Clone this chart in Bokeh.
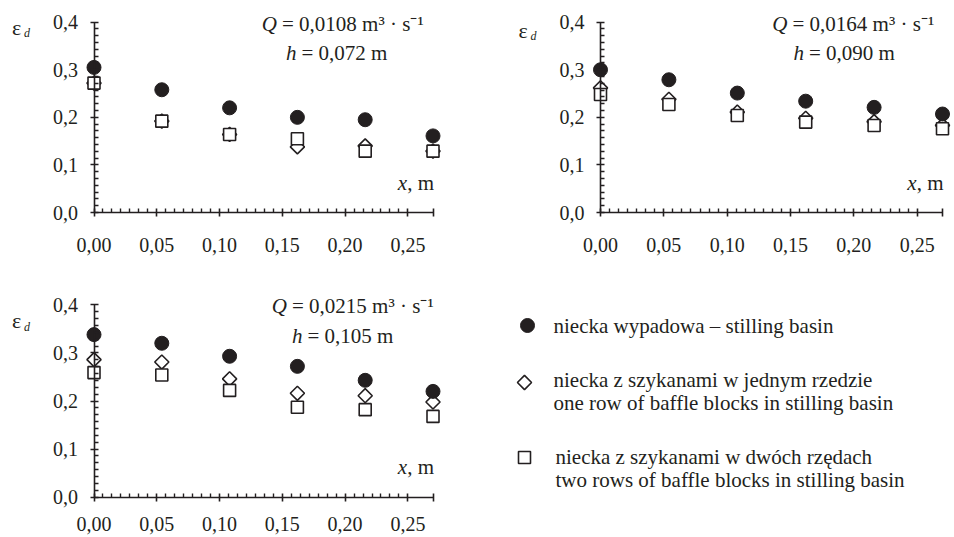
import numpy as np
from bokeh.plotting import figure
from bokeh.models import Range1d, FixedTicker, Label
from bokeh.layouts import column, row
from bokeh.embed import file_html
from bokeh.resources import INLINE

# ---------------- data ----------------
x_pos = [0.0, 0.054, 0.108, 0.162, 0.216, 0.270]

p1_basin = [0.305, 0.258, 0.220, 0.200, 0.195, 0.161]
p1_one_row = [0.272, 0.192, 0.164, 0.138, 0.140, 0.129]
p1_two_rows = [0.272, 0.192, 0.164, 0.155, 0.129, 0.129]

p2_basin = [0.300, 0.279, 0.251, 0.234, 0.221, 0.207]
p2_one_row = [0.262, 0.238, 0.211, 0.198, 0.191, 0.183]
p2_two_rows = [0.248, 0.227, 0.204, 0.190, 0.183, 0.176]

p3_basin = [0.338, 0.320, 0.293, 0.272, 0.243, 0.220]
p3_one_row = [0.286, 0.281, 0.246, 0.216, 0.211, 0.198]
p3_two_rows = [0.259, 0.254, 0.222, 0.187, 0.182, 0.168]

q_texts = ["0,0108", "0,0164", "0,0215"]
h_texts = ["0,072", "0,090", "0,105"]

x_ticks = [0.0, 0.05, 0.10, 0.15, 0.20, 0.25]
x_tick_labels = ["0,00", "0,05", "0,10", "0,15", "0,20", "0,25"]
x_end = 0.27
y_ticks = [0.0, 0.1, 0.2, 0.3, 0.4]
y_tick_labels = ["0,0", "0,1", "0,2", "0,3", "0,4"]

legend_labels = [
    ["niecka wypadowa – stilling basin"],
    ["niecka z szykanami w jednym rzedzie", "one row of baffle blocks in stilling basin"],
    ["niecka z szykanami w dwóch rzędach", "two rows of baffle blocks in stilling basin"],
]

# ---------------- style ----------------
INK = "#231f20"
FONT = "Liberation Serif"


def minor_between(ticks, n=7):
    out = []
    for a, b in zip(ticks[:-1], ticks[1:]):
        out.extend(np.linspace(a, b, n + 1)[1:-1].tolist())
    return out


def make_panel(width, height, ox, oy, x_px_end, y_px_top, basin, one_row, two_rows,
               q_txt, h_txt, q_end, h_start, eps_dy, x_standoff):
    # ox, oy: pixel position of the origin (0, 0) inside the figure (top-left based)
    # x_px_end: pixel x of x = x_end ; y_px_top: pixel y of y = 0.4
    sx = (x_px_end - ox) / x_end
    sy = (oy - y_px_top) / 0.4
    xr = Range1d(-ox / sx, (width - ox) / sx)
    yr = Range1d(-(height - oy) / sy, oy / sy)
    p = figure(width=width, height=height, output_backend="svg", toolbar_location=None,
               x_range=xr, y_range=yr, min_border=0)
    p.outline_line_color = None
    p.grid.visible = False
    p.background_fill_color = "white"
    p.border_fill_color = "white"

    xa = p.xaxis[0]
    ya = p.yaxis[0]
    ya.fixed_location = 0
    xa.fixed_location = 0
    xa.bounds = (0, x_end)
    ya.bounds = (0, 0.4)
    xa.ticker = FixedTicker(ticks=x_ticks + [x_end], minor_ticks=minor_between(x_ticks))
    ya.ticker = FixedTicker(ticks=y_ticks, minor_ticks=minor_between(y_ticks))
    xo = {t: l for t, l in zip(x_ticks, x_tick_labels)}
    xo[x_end] = ""
    xa.major_label_overrides = xo
    ya.major_label_overrides = {t: l for t, l in zip(y_ticks, y_tick_labels)}
    for ax in (xa, ya):
        ax.axis_line_color = INK
        ax.axis_line_width = 1.6
        ax.major_tick_line_color = INK
        ax.major_tick_line_width = 1.6
        ax.minor_tick_line_color = INK
        ax.minor_tick_line_width = 1.4
        ax.major_tick_in = 4
        ax.major_tick_out = 4
        ax.minor_tick_in = 4
        ax.minor_tick_out = 0
        ax.major_label_text_font = FONT
        ax.major_label_text_font_size = "20px"
        ax.major_label_text_color = INK
    xa.major_label_standoff = x_standoff
    ya.major_label_standoff = 12

    p.scatter(x_pos, one_row, marker="square", angle=np.pi / 4, size=10,
              fill_color="white", line_color=INK, line_width=1.6)
    p.scatter(x_pos, two_rows, marker="square", size=12,
              fill_color="white", line_color=INK, line_width=1.6)
    p.scatter(x_pos, basin, marker="circle", size=14,
              fill_color=INK, line_color=INK, line_width=1)

    common = dict(text_font=FONT, text_color=INK, text_baseline="middle",
                  text_font_size="21px")
    # Q line
    p.add_layout(Label(x=0, y=0.4, x_offset=q_end, y_offset=-1.5, text="Q",
                       text_align="right", text_font_style="italic", **common))
    p.add_layout(Label(x=0, y=0.4, x_offset=q_end + 5, y_offset=-1.5,
                       text="= " + q_txt + " m³ · s⁻¹", text_align="left", **common))
    # h line
    p.add_layout(Label(x=0, y=0.4, x_offset=h_start, y_offset=-31, text="h",
                       text_align="left", text_font_style="italic", **common))
    p.add_layout(Label(x=0, y=0.4, x_offset=h_start + 15.5, y_offset=-31,
                       text="= " + h_txt + " m", text_align="left", **common))
    # x, m
    p.add_layout(Label(x=x_end, y=0, x_offset=1, y_offset=30, text=", m",
                       text_align="right", **common))
    p.add_layout(Label(x=x_end, y=0, x_offset=-26, y_offset=30, text="x",
                       text_align="right", text_font_style="italic", **common))
    # epsilon_d
    p.add_layout(Label(x=0, y=0.4, x_offset=-82, y_offset=eps_dy, text="ε",
                       text_align="left", text_font=FONT, text_color=INK,
                       text_baseline="middle", text_font_size="22px"))
    p.add_layout(Label(x=0, y=0.4, x_offset=-70, y_offset=eps_dy - 6, text="d",
                       text_align="left", text_font_style="italic",
                       text_font=FONT, text_color=INK, text_baseline="middle",
                       text_font_size="12px"))
    return p


p1 = make_panel(506, 282, 93.5, 212, 432.5, 21.7, p1_basin, p1_one_row, p1_two_rows,
                q_texts[0], h_texts[0], 183, 192, -5, 21)
p2 = make_panel(448, 282, 94, 212, 436, 21.7, p2_basin, p2_one_row, p2_two_rows,
                q_texts[1], h_texts[1], 187, 193, -8, 21)
p3 = make_panel(506, 255, 93.5, 214.7, 432.5, 22.3, p3_basin, p3_one_row, p3_two_rows,
                q_texts[2], h_texts[2], 193, 198, -16, 16)

# ---------------- legend panel ----------------
p4 = figure(width=448, height=255, output_backend="svg", toolbar_location=None,
            x_range=Range1d(0, 448), y_range=Range1d(255, 0),
            x_axis_location=None, y_axis_location=None, min_border=0)
p4.outline_line_color = None
p4.grid.visible = False
p4.background_fill_color = "white"
p4.border_fill_color = "white"

sw_x = [21, 18, 18]
sw_y = [43, 100, 175]
p4.scatter([sw_x[0]], [sw_y[0]], marker="circle", size=14, fill_color=INK, line_color=INK)
p4.scatter([sw_x[1]], [sw_y[1]], marker="square", angle=np.pi / 4, size=10,
           fill_color="white", line_color=INK, line_width=1.6)
p4.scatter([sw_x[2]], [sw_y[2]], marker="square", size=12,
           fill_color="white", line_color=INK, line_width=1.6)

text_x = [47, 47, 49]
line_y = [[43], [97, 120], [174, 197]]
for lines, ys, tx in zip(legend_labels, line_y, text_x):
    for t, yy in zip(lines, ys):
        p4.add_layout(Label(x=tx, y=yy, text=t, text_font=FONT, text_font_size="21px",
                            text_color=INK, text_baseline="middle", text_align="left"))

layout = column(row(p1, p2), row(p3, p4))
open("out.html", "w").write(file_html(layout, INLINE))
